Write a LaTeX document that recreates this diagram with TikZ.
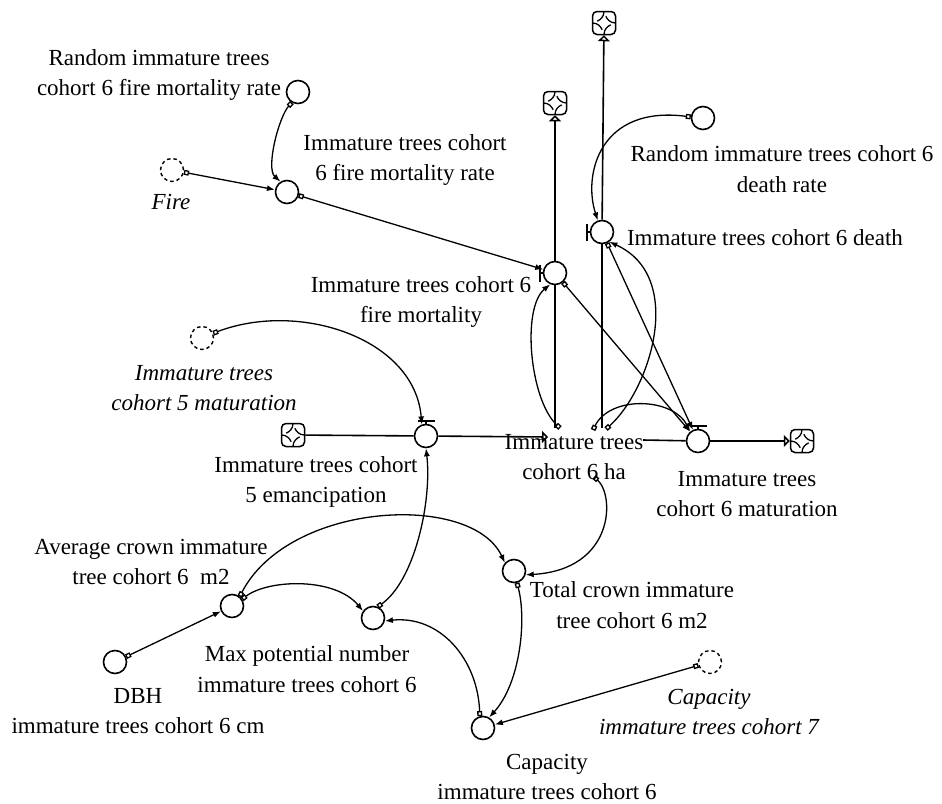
\documentclass[tikz,border=0pt]{standalone}
\usepackage{fontspec}
\setmainfont{Liberation Serif}
\usetikzlibrary{arrows.meta,calc}

% bar-and-stem handle of a flow valve: #1 valve node, #2 side (angle)
\newcommand{\valvebar}[2]{%
  \draw[valvestroke] (#1.#2) -- ($(#1.center)+(#2:15pt)$)
    ($(#1.center)+(#2:15pt)+(#2+90:8.5pt)$) -- ($(#1.center)+(#2:15pt)+(#2-90:8.5pt)$);}

\begin{document}
\begin{tikzpicture}[x=1pt,y=1pt,
  every node/.style={font=\fontsize{23}{30.5}\selectfont},
  lbl/.style={align=center, inner sep=0pt},
  shadowlbl/.style={align=center, inner sep=0pt, font=\fontsize{23}{30.5}\selectfont\itshape},
  aux/.style={circle, draw, line width=1.6pt, minimum size=23pt, inner sep=0pt, fill=white},
  shadowaux/.style={aux, line width=1.4pt, dash pattern=on 3.5pt off 3pt},
  valve/.style={aux},
  valvestroke/.style={line width=1.5pt},
  cloud/.style={draw, line width=1.5pt, rounded corners=4.5pt, minimum size=23pt, inner sep=0pt, fill=white,
    path picture={
      \foreach \a in {0,90,180,270}{
        \draw[line width=1.3pt] ($(path picture bounding box.center)+(\a:11.5pt)$)
          .. controls ($(path picture bounding box.center)+(\a:6pt)$) and ($(path picture bounding box.center)+(\a+50:5pt)$)
          .. ($(path picture bounding box.center)+(\a+75:7pt)$);
      }}},
  pipe/.style={line width=1.6pt},
  pipeend/.style={line width=1.6pt, -{Triangle[open,length=6pt,width=12pt]}},
  link/.style={line width=1.3pt, {Square[open,length=5pt,width=5pt]}-{Latex[length=8pt,width=6pt]}}
]
\useasboundingbox (0,0) rectangle (942,-803);

% ---- clouds (sources and sinks)
\node[cloud] (cloudA)   at (555,-103) {};
\node[cloud] (cloudB)   at (604,-23)  {};
\node[cloud] (cloudIn)  at (293,-435) {};
\node[cloud] (cloudOut) at (802,-441) {};

% ---- valves
\node[valve] (fireMortV) at (555,-273) {};
\node[valve] (deathV)    at (602,-232) {};
\node[valve] (emancV)    at (426,-436) {};
\node[valve] (matV)      at (698,-441) {};
\valvebar{fireMortV}{180}
\valvebar{deathV}{180}
\valvebar{emancV}{90}
\valvebar{matV}{90}

% ---- auxiliaries
\node[aux] (randFire)  at (298,-92)  {};
\node[aux] (fireRate)  at (287,-192) {};
\node[aux] (randDeath) at (703,-118) {};
\node[aux] (maxPot)    at (373,-618) {};
\node[aux] (avgCrown)  at (232,-606) {};
\node[aux] (dbh)       at (115,-662) {};
\node[aux] (totCrown)  at (514,-571) {};
\node[aux] (capacity)  at (483,-728) {};

% ---- shadow variables
\node[shadowaux] (fire) at (172,-170) {};
\node[shadowaux] (imm5) at (202,-338) {};
\node[shadowaux] (cap7) at (710,-662) {};

% ---- stock (label only) and its attachment points
\node[lbl] (stock) at (574,-457) {Immature trees\\cohort 6 ha};
\coordinate (stockIn)   at (548,-437);
\coordinate (stockOut)  at (643,-440);
\coordinate (fireTop)   at (555,-428);
\coordinate (deathTop)  at (602,-428);
\coordinate (stockA)    at (560,-428);
\coordinate (stockB)    at (593,-430);
\coordinate (stockC)    at (606,-429);
\coordinate (stockD)    at (594,-477);

% ---- labels
\node[lbl] (randFireL)  at (159,-75)  {Random immature trees\\cohort 6 fire mortality rate};
\node[lbl] (fireRateL)  at (405,-160) {Immature trees cohort\\6 fire mortality rate};
\node[shadowlbl] (fireL) at (171,-202) {Fire};
\node[lbl] (randDeathL) at (782,-169) {Random immature trees cohort 6\\death rate};
\node[lbl] (deathL)     at (765,-238) {Immature trees cohort 6 death};
\node[lbl] (fireMortL)  at (421,-302) {Immature trees cohort 6\\fire mortality};
\node[shadowlbl] (imm5L) at (204,-388) {Immature trees\\cohort 5 maturation};
\node[lbl] (emancL)     at (316,-482) {Immature trees cohort\\5 emancipation};
\node[lbl] (matL)       at (747,-494) {Immature trees\\cohort 6 maturation};
\node[lbl] (avgL)       at (151,-562) {Average crown immature\\tree cohort 6\ \ m2};
\node[lbl] (maxL)       at (307,-669) {Max potential number\\immature trees cohort 6};
\node[lbl] (dbhL)       at (138,-711) {DBH\\immature trees cohort 6 cm};
\node[lbl] (totL)       at (632,-605) {Total crown immature\\tree cohort 6 m2};
\node[lbl] (capL)       at (547,-777) {Capacity\\immature trees cohort 6};
\node[shadowlbl] (cap7L) at (709,-712) {Capacity\\immature trees cohort 7};

% ---- material flows
\draw[pipe] (cloudIn) -- (emancV);
\draw[pipeend] (emancV) -- (stockIn);
\draw[pipe] (stockOut) -- (matV);
\draw[pipeend] (matV) -- (cloudOut);
\draw[pipe] (fireTop) -- (fireMortV);
\draw[pipeend] (fireMortV) -- (cloudA);
\draw[pipe] (deathTop) -- (deathV);
\draw[pipeend] (deathV) -- (cloudB);

% ---- information links
\draw[link] (randFire.240) .. controls +(-13,-14) and +(-15,13) .. (fireRate.122);
\draw[link] (fire) -- (fireRate);
\draw[link] (fireRate) -- (fireMortV);
\draw[link] (randDeath.175) .. controls +(-91,12) and +(-15,46) .. (deathV.110);
\draw[link] (stockA) .. controls +(-30,28) and +(-29,-24) .. (fireMortV.247);
\draw[link] (stockC) .. controls +(44,39) and +(77,-35) .. (deathV.307);
\draw[link] (stockB) .. controls +(17,35) and +(-17,34) .. (matV.130);
\draw[link] (fireMortV) -- (matV);
\draw[link] (deathV) -- (matV);
\draw[link] (imm5.23) .. controls +(86,33) and +(-7,86) .. (emancV.110);
\draw[link] (maxPot.67) .. controls +(37,26) and +(6,-53) .. (emancV.270);
\draw[link] (dbh) -- (avgCrown);
\draw[link] (avgCrown.34) .. controls +(26,20) and +(-28,34) .. (maxPot.145);
\draw[link] (avgCrown.51) .. controls +(49,95) and +(-33,71) .. (totCrown.138);
\draw[link] (stockD) .. controls +(21,-18) and +(89,5) .. (totCrown.342);
\draw[link] (totCrown.284) .. controls +(10,-37) and +(31,34) .. (capacity.60);
\draw[link] (capacity.105) .. controls +(-2,57) and +(55,6) .. (maxPot.346);
\draw[link] (cap7) -- (capacity);
\end{tikzpicture}
\end{document}
